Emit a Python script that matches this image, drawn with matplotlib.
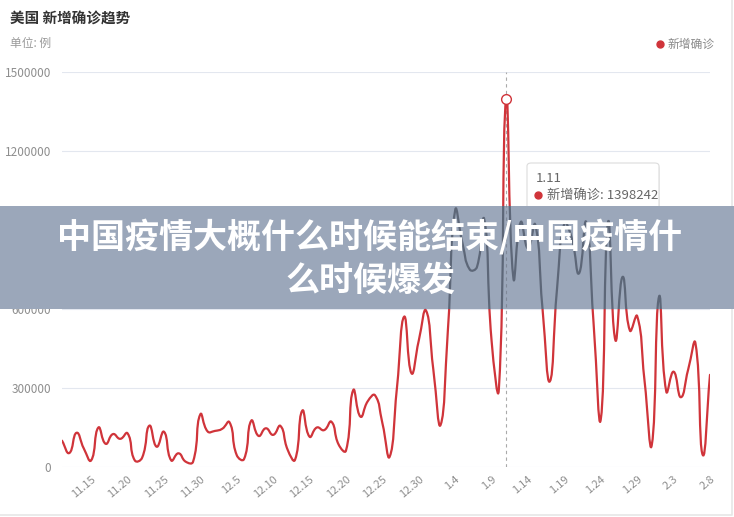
import matplotlib as mpl
mpl.use('Agg')

import matplotlib.pyplot as plt
import numpy as np
import pandas as pd
from matplotlib.path import Path
from matplotlib.patches import PathPatch, Rectangle, FancyBboxPatch
from matplotlib.lines import Line2D

plt.rcParams['font.family'] = ['Noto Sans CJK SC', 'DejaVu Sans']

# US daily new confirmed cases, 2021-11-11 .. 2022-02-08
dates = pd.date_range('2021-11-11', '2022-02-08', freq='D')
date_labels = ['%d.%d' % (d.month, d.day) for d in dates]
new_cases = [
    100000, 53000, 130000, 70000, 25000, 150000, 88000, 125000, 107000, 128000,
    25000, 35000, 157000, 77000, 134000, 25000, 52000, 20000, 20000, 200000,
    135000, 137000, 145000, 170000, 45000, 30000, 176000, 118000, 147000, 122000,
    156000, 65000, 27000, 214000, 115000, 150000, 140000, 172000, 85000, 62000,
    292000, 191000, 250000, 272000, 167000, 39000, 300000, 571000, 356000, 480000,
    594000, 370000, 160000, 520000, 975000, 850000, 750000, 760000, 940000, 480000,
    295000, 1398242, 717000, 930000, 830000, 920000, 600000, 325000, 680000, 925000,
    870000, 735000, 930000, 550000, 181000, 930000, 482000, 722000, 518000, 573000,
    330000, 83000, 647000, 286000, 362000, 265000, 370000, 470000, 46000, 350000,
]
y_ticks = [0, 300000, 600000, 900000, 1200000, 1500000]
label_start, label_step = 4, 5
hover_index = 61

title = '美国 新增确诊趋势'
unit = '单位: 例'
series_name = '新增确诊'
banner_lines = ['中国疫情大概什么时候能结束/中国疫情什', '么时候爆发']

W, H = 734, 517
RED = '#d0343a'


def fx(px):
    return px / W


def fy(py):
    return 1 - py / H


# echarts-like smooth line (bezier control points from neighbours, smooth=0.5)
def smooth_path(xs, ys, sx, sy, smooth=0.5):
    p = np.column_stack([np.asarray(xs, float) * sx, np.asarray(ys, float) * sy])
    n = len(p)
    cin = np.zeros_like(p)
    cout = np.zeros_like(p)
    for i in range(n):
        prev = p[i - 1] if i > 0 else p[i]
        nxt = p[i + 1] if i < n - 1 else p[i]
        v = nxt - prev
        d0 = np.hypot(*(p[i] - prev))
        d1 = np.hypot(*(nxt - p[i]))
        r = d1 / (d0 + d1) if d0 + d1 > 0 else 0.5
        cin[i] = p[i] - v * smooth * (1 - r)
        cout[i] = p[i] + v * smooth * r
    verts = [p[0]]
    codes = [Path.MOVETO]
    for i in range(n - 1):
        verts += [cout[i], cin[i + 1], p[i + 1]]
        codes += [Path.CURVE4] * 3
    verts = np.array(verts) / [sx, sy]
    return Path(verts, codes)


fig = plt.figure(figsize=(W / 100, H / 100), dpi=100)
fig.patch.set_facecolor('white')

ax_rect = [fx(62), fy(467), fx(710) - fx(62), fy(72) - fy(467)]
ax = fig.add_axes(ax_rect)
ax.set_xlim(0, len(new_cases) - 1)
ax.set_ylim(0, 1500000)
for s in ax.spines.values():
    s.set_visible(False)
ax.set_yticks(y_ticks)
ax.set_yticklabels([str(v) for v in y_ticks])
ax.yaxis.grid(True, color='#e3e7ef', lw=0.8)
ax.set_axisbelow(True)
xt = list(range(label_start, len(new_cases), label_step))
ax.set_xticks(xt)
ax.set_xticklabels([date_labels[i] for i in xt], rotation=40, ha='right',
                   rotation_mode='anchor')
ax.tick_params(axis='y', length=0, pad=8, labelsize=8.5, labelcolor='#8e8e8e')
ax.tick_params(axis='x', length=0, pad=5, labelsize=8, labelcolor='#8e8e8e')

sx = (710 - 62) / (len(new_cases) - 1)
sy = 395 / 1500000
path = smooth_path(range(len(new_cases)), new_cases, sx, sy)
ax.add_patch(PathPatch(path, facecolor='none', edgecolor=RED, lw=1.6,
                       joinstyle='round', capstyle='round', zorder=3))

# hover pointer
ax.axvline(hover_index, color='#aaaaaa', lw=0.8, ls=(0, (3, 3)), zorder=2)
ax.plot([hover_index], [new_cases[hover_index]], marker='o', ms=7, mfc='white',
        mec=RED, mew=1.0, zorder=4)

# title / unit / legend
fig.text(fx(10), fy(19), title, fontsize=10.5, fontweight='bold', color='#333333',
         va='center', ha='left')
fig.text(fx(10), fy(43), unit, fontsize=8.5, color='#9a9a9a', va='center', ha='left')
fig.add_artist(Line2D([fx(660)], [fy(44)], marker='o', ms=5, color=RED,
                      transform=fig.transFigure))
fig.text(fx(668), fy(44), series_name, fontsize=8.5, color='#8a8a8a',
         va='center', ha='left')

# tooltip
shadow = FancyBboxPatch((fx(528), fy(218)), fx(659) - fx(527), fy(163) - fy(216),
                        boxstyle='round,pad=0,rounding_size=0.006',
                        transform=fig.transFigure, facecolor='#000000', alpha=0.06,
                        edgecolor='none', zorder=3.9)
fig.add_artist(shadow)
tip = FancyBboxPatch((fx(527), fy(216)), fx(659) - fx(527), fy(163) - fy(216),
                     boxstyle='round,pad=0,rounding_size=0.006',
                     transform=fig.transFigure, facecolor='white',
                     edgecolor='#dcdcdc', lw=0.8, zorder=4)
fig.add_artist(tip)
fig.text(fx(536), fy(178), date_labels[hover_index], fontsize=9.5, color='#666666',
         va='center', ha='left', zorder=4.1)
fig.add_artist(Line2D([fx(538)], [fy(195)], marker='o', ms=5, color=RED,
                      transform=fig.transFigure, zorder=4.1))
fig.text(fx(547), fy(195), '%s: %d' % (series_name, new_cases[hover_index]),
         fontsize=9.5, color='#666666', va='center', ha='left', zorder=4.1)

# overlay banner
banner = Rectangle((0, fy(309)), 1, fy(206) - fy(309), transform=fig.transFigure,
                   facecolor='#9ba7ba', edgecolor='none', zorder=5)
fig.add_artist(banner)
ax2 = fig.add_axes(ax_rect, zorder=6)
ax2.set_xlim(ax.get_xlim())
ax2.set_ylim(ax.get_ylim())
ax2.axis('off')
ax2.patch.set_alpha(0)
under = PathPatch(path, facecolor='none', edgecolor='#5d6778', lw=1.6,
                  joinstyle='round', capstyle='round')
ax2.add_patch(under)
under.set_clip_path(banner)
vl = ax2.axvline(hover_index, color='#7f8898', lw=0.8, ls=(0, (3, 3)))
vl.set_clip_path(banner)

fig.text(fx(370), fy(237), banner_lines[0], fontsize=24.5, fontweight='heavy',
         color='white', ha='center', va='center', zorder=7)
fig.text(fx(370), fy(280), banner_lines[1], fontsize=24.5, fontweight='heavy',
         color='white', ha='center', va='center', zorder=7)

# card edge
fig.add_artist(Line2D([fx(0), fx(732), fx(732)], [fy(515), fy(515), fy(0)],
                      color='#e6e6e6', lw=1.2, transform=fig.transFigure))

fig.savefig('out.png', dpi=100)
